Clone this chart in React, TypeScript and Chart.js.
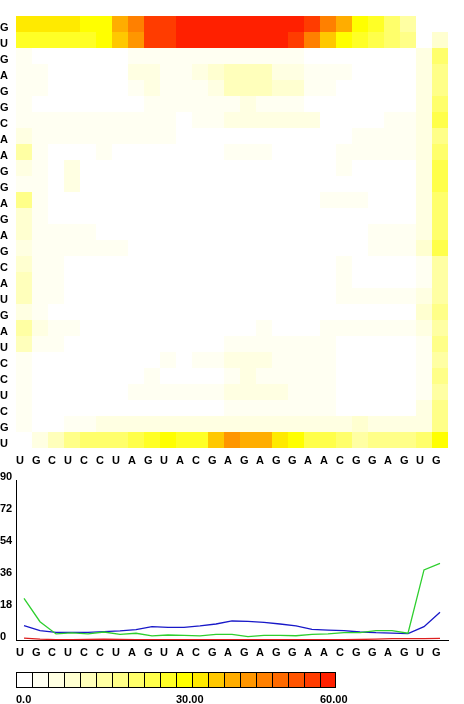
import React, { useEffect, useRef } from "react";
import { Chart, registerables } from "chart.js";

Chart.register(...registerables);

// ---- labels ----
const rowLabels = ["G","U","G","A","G","G","C","A","A","G","G","A","G","A","G","C","A","U","G","A","U","C","C","U","C","G","U"];
const colLabels = ["U","G","C","U","C","C","U","A","G","U","A","C","G","A","G","A","G","G","A","A","C","G","G","A","G","U","G"];

// ---- heatmap values (0..60), one array per row, top to bottom ----
const heat00 = [33,33,33,33,31,30,40,46,55,56,59,60,60,60,60,60,60,60,55,46,40,30,27,23,16,0,0];
const heat01 = [27,27,28,28,29,30,36,42,54,55,57,60,60,60,60,60,60,55,47,37,30,28,26,23,18,0,9];
const heat02 = [4,0,0,0,0,0,0,4,4,4,4,4,4,4,4,4,4,4,0,0,0,0,0,0,0,7,22];
const heat03 = [5,3,0,0,0,0,0,6,8,5,5,8,10,13,13,13,8,8,4,4,4,0,0,0,0,7,20];
const heat04 = [5,4,0,0,0,0,0,3,8,5,5,5,8,13,13,13,10,10,4,4,0,0,0,0,0,7,20];
const heat05 = [5,0,0,0,0,0,0,0,4,4,4,4,4,4,8,5,5,5,0,0,0,0,0,0,0,6,22];
const heat06 = [4,4,4,4,4,4,4,4,4,4,0,5,5,6,6,6,6,6,6,0,0,0,0,4,4,8,25];
const heat07 = [8,4,4,4,4,4,4,4,4,4,0,0,0,0,0,0,0,0,0,0,0,5,5,5,5,8,20];
const heat08 = [16,4,0,0,0,5,0,0,0,0,0,0,0,5,5,5,0,0,0,0,5,5,5,5,5,7,22];
const heat09 = [8,4,0,8,0,0,0,0,0,0,0,0,0,0,0,0,0,0,0,0,5,0,0,0,0,7,25];
const heat10 = [4,4,0,8,0,0,0,0,0,0,0,0,0,0,0,0,0,0,0,0,0,0,0,0,0,7,26];
const heat11 = [19,4,0,0,0,0,0,0,0,0,0,0,0,0,0,0,0,0,0,5,5,5,0,0,0,7,22];
const heat12 = [10,4,0,0,0,0,0,0,0,0,0,0,0,0,0,0,0,0,0,0,0,0,0,0,0,7,23];
const heat13 = [10,4,4,4,4,0,0,0,0,0,0,0,0,0,0,0,0,0,0,0,0,0,5,5,5,8,23];
const heat14 = [7,4,4,4,4,4,4,0,0,0,0,0,0,0,0,0,0,0,0,0,0,0,5,5,5,10,26];
const heat15 = [10,4,4,0,0,0,0,0,0,0,0,0,0,0,0,0,0,0,0,0,5,0,0,0,0,5,16];
const heat16 = [14,4,4,0,0,0,0,0,0,0,0,0,0,0,0,0,0,0,0,0,5,0,0,0,0,5,16];
const heat17 = [13,4,4,0,0,0,0,0,0,0,0,0,0,0,0,0,0,0,0,0,5,5,5,5,5,7,16];
const heat18 = [8,3,0,0,0,0,0,0,0,0,0,0,0,0,0,0,0,0,0,0,0,0,0,0,0,10,20];
const heat19 = [16,7,4,4,0,0,0,0,0,0,0,0,0,0,0,5,0,0,0,4,4,4,4,4,4,7,16];
const heat20 = [14,5,5,0,0,0,0,0,0,0,0,0,0,3,3,3,3,3,3,3,0,0,0,0,0,5,19];
const heat21 = [4,0,0,0,0,0,0,0,0,4,0,4,4,8,8,7,4,4,4,4,0,0,0,0,0,5,16];
const heat22 = [4,0,0,0,0,0,0,0,4,0,0,0,0,5,7,4,4,4,4,4,0,0,0,0,0,5,19];
const heat23 = [4,0,0,0,0,0,0,4,4,4,4,4,4,7,7,7,7,4,4,4,0,0,0,0,0,5,16];
const heat24 = [4,0,0,0,0,0,0,0,0,0,0,0,0,4,4,4,4,4,4,4,0,0,0,0,0,7,19];
const heat25 = [4,0,0,5,5,7,7,7,7,7,7,7,7,7,7,7,7,7,7,7,7,10,7,7,7,7,19];
const heat26 = [0,8,14,20,22,23,23,25,28,30,29,29,37,42,41,39,35,30,26,25,22,16,19,20,19,22,30];

const heatRows = [
  heat00, heat01, heat02, heat03, heat04, heat05, heat06, heat07, heat08,
  heat09, heat10, heat11, heat12, heat13, heat14, heat15, heat16, heat17,
  heat18, heat19, heat20, heat21, heat22, heat23, heat24, heat25, heat26,
];

// ---- line chart series ----
const greenValues = [23.4,10.3,3.4,4.0,3.4,4.5,3.2,3.8,2.3,2.8,2.6,2.3,3.2,3.2,1.9,2.6,2.6,2.4,3.2,3.4,4.1,4.1,5.3,5.3,3.8,39.4,43.1];
const blueValues = [8.1,5.3,4.3,4.3,4.3,4.7,5.1,5.8,7.5,7.1,7.1,7.9,9.0,10.7,10.5,9.9,9.0,7.9,6.0,5.6,5.3,4.5,4.1,3.9,3.6,7.5,15.6];
const redValues = [1.0,0.5,0.2,0.2,0.3,0.5,0.4,0.2,0.2,0.2,0.2,0.2,0.2,0.2,0.2,0.2,0.2,0.2,0.2,0.2,0.2,0.3,0.5,0.8,0.8,0.8,0.9];
const lineYTicks = [0, 18, 36, 54, 72, 90];
const lineYMax = 90;

// ---- colour scale ----
const scaleMax = 60;
const palette = [
  "#ffffff", "#fffff2", "#ffffe2", "#ffffd0", "#ffffbb",
  "#ffffa3", "#ffff88", "#ffff6b", "#ffff4a", "#ffff26",
  "#ffff00", "#ffea00", "#ffc800", "#ffad00", "#ff9600",
  "#ff8000", "#ff6a00", "#ff5400", "#ff3c00", "#ff2000",
];
const legendTickIndex = [0, 10, 19];
const legendTickLabels = ["0.0", "30.00", "60.00"];

const colorFor = (v: number) => {
  const step = scaleMax / palette.length;
  return palette[Math.min(palette.length - 1, Math.max(0, Math.floor(v / step)))];
};

const FONT = { family: '"Liberation Sans", Arial, Helvetica, sans-serif', size: 11, weight: "bold" as const };

export default function App() {
  const heatRef = useRef<HTMLCanvasElement | null>(null);
  const lineRef = useRef<HTMLCanvasElement | null>(null);
  const legRef = useRef<HTMLCanvasElement | null>(null);

  useEffect(() => {
    const charts: Chart[] = [];
    const rowShift = 0.25; // labels sit slightly below row centre
    const yShift = 3 * (lineYMax / 160); // labels sit slightly above the value

    charts.push(
      new Chart(heatRef.current as HTMLCanvasElement, {
        type: "bar",
        data: {
          labels: colLabels,
          datasets: heatRows.map((row, r) => ({
            label: rowLabels[r],
            data: row.map(() => 1),
            backgroundColor: row.map(colorFor),
            borderWidth: 0,
            inflateAmount: 0,
            categoryPercentage: 1,
            barPercentage: 1,
          })),
        },
        options: {
          animation: false,
          responsive: false,
          events: [],
          layout: { padding: { left: 0, top: 16, right: 16, bottom: 0 } },
          plugins: { legend: { display: false }, tooltip: { enabled: false } },
          scales: {
            x: {
              stacked: true,
              offset: true,
              grid: { display: false, drawTicks: false },
              border: { display: false },
              ticks: { font: FONT, color: "#000", align: "start", labelOffset: -8, padding: 6, autoSkip: false, maxRotation: 0 },
              afterFit: (s: any) => { s.height = 22; },
            },
            y: {
              stacked: true,
              reverse: true,
              min: 0,
              max: rowLabels.length,
              grid: { display: false, drawTicks: false },
              border: { display: false },
              afterBuildTicks: (s: any) => { s.ticks = rowLabels.map((_, i) => ({ value: i + 0.5 + rowShift })); },
              ticks: { font: FONT, color: "#000", crossAlign: "far", autoSkip: false, callback: (v: any) => rowLabels[Math.floor(Number(v))] },
              afterFit: (s: any) => { s.width = 16; },
            },
          },
        } as any,
      })
    );

    charts.push(
      new Chart(lineRef.current as HTMLCanvasElement, {
        type: "line",
        data: {
          labels: colLabels,
          datasets: [
            { data: greenValues, borderColor: "#2fcf2f", borderWidth: 1.3, pointRadius: 0, tension: 0, fill: false },
            { data: blueValues, borderColor: "#1818c8", borderWidth: 1.3, pointRadius: 0, tension: 0, fill: false },
            { data: redValues, borderColor: "#dd2020", borderWidth: 1.3, pointRadius: 0, tension: 0, fill: false },
          ],
        },
        options: {
          animation: false,
          responsive: false,
          events: [],
          layout: { padding: { left: 0, top: 10, right: 16, bottom: 0 } },
          plugins: { legend: { display: false }, tooltip: { enabled: false } },
          scales: {
            x: {
              type: "category",
              offset: true,
              grid: { display: false, drawTicks: false },
              border: { display: true, color: "#000", width: 1 },
              ticks: { font: FONT, color: "#000", align: "start", labelOffset: -8, padding: 6, autoSkip: false, maxRotation: 0 },
              afterFit: (s: any) => { s.height = 25; },
            },
            y: {
              min: 0,
              max: lineYMax,
              grid: { display: false, drawTicks: false },
              border: { display: true, color: "#000", width: 1 },
              afterBuildTicks: (s: any) => { s.ticks = lineYTicks.map((v) => ({ value: v + yShift })); },
              ticks: { font: FONT, color: "#000", crossAlign: "far", autoSkip: false, callback: (v: any) => String(Math.round(Number(v) - yShift)) },
              afterFit: (s: any) => { s.width = 16; },
            },
          },
        } as any,
      })
    );

    charts.push(
      new Chart(legRef.current as HTMLCanvasElement, {
        type: "bar",
        data: {
          labels: [""],
          datasets: palette.map((c, i) => ({
            data: [1],
            backgroundColor: c,
            borderColor: "#000",
            borderWidth: i === palette.length - 1 ? 1 : { top: 1, bottom: 1, left: 1, right: 0 },
            borderSkipped: false,
            inflateAmount: 0,
            categoryPercentage: 1,
            barPercentage: 1,
          })),
        },
        options: {
          indexAxis: "y",
          animation: false,
          responsive: false,
          events: [],
          layout: { padding: { left: 16, top: 7, right: 128, bottom: 0 } },
          plugins: { legend: { display: false }, tooltip: { enabled: false } },
          scales: {
            x: {
              type: "linear",
              stacked: true,
              min: 0,
              max: palette.length,
              grid: { display: false, drawTicks: false },
              border: { display: false },
              afterBuildTicks: (s: any) => { s.ticks = legendTickIndex.map((v) => ({ value: v })); },
              ticks: { font: FONT, color: "#000", align: "start", padding: 5, autoSkip: false, maxRotation: 0, callback: (_v: any, i: number) => legendTickLabels[i] },
              afterFit: (s: any) => { s.height = 16; },
            },
            y: { stacked: true, display: false },
          },
        } as any,
      })
    );

    return () => charts.forEach((c) => c.destroy());
  }, []);

  return (
    <div style={{ position: "absolute", left: 0, top: 0, width: 464, height: 704, background: "#fff" }}>
      <canvas ref={heatRef} width={464} height={470} style={{ position: "absolute", left: 0, top: 0 }} />
      <canvas ref={lineRef} width={464} height={195} style={{ position: "absolute", left: 0, top: 470 }} />
      <canvas ref={legRef} width={464} height={39} style={{ position: "absolute", left: 0, top: 665 }} />
    </div>
  );
}
